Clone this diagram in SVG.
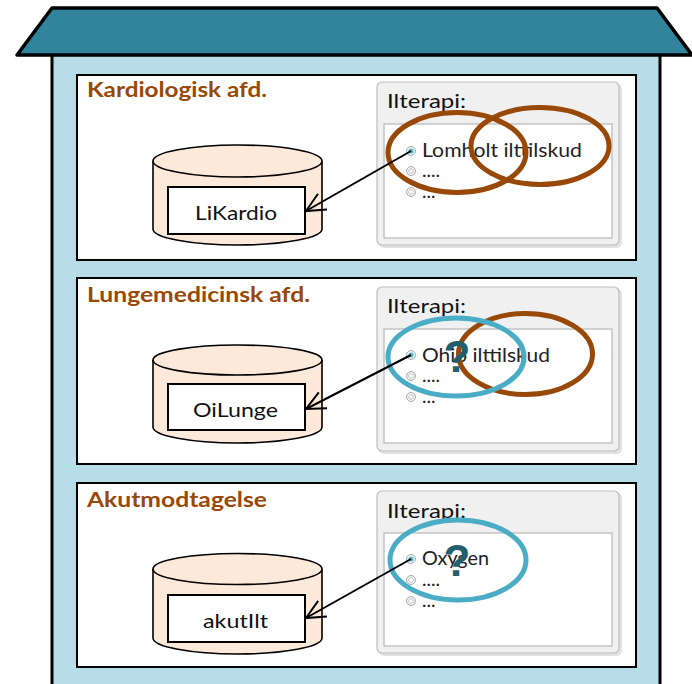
<svg xmlns="http://www.w3.org/2000/svg" width="692" height="684" viewBox="0 0 692 684">
<style>
.title{font-family:Lato,"Liberation Sans",sans-serif;font-weight:bold;font-size:21px;fill:#984807}
.lbl{font-family:Lato,"Liberation Sans",sans-serif;font-size:20px;fill:#111}
.opt{font-family:Lato,"Liberation Sans",sans-serif;font-size:19px;fill:#222}
.panel{fill:#fff;stroke:#000;stroke-width:2}
.cyl{fill:#fde9d9;stroke:#000;stroke-width:1.6}
.inner{fill:#fff;stroke:#000;stroke-width:2}
.box{fill:#f0f0f0;stroke:#bdbdbd;stroke-width:1.2}
.shadow{fill:#e2e2e2}
.list{fill:#fff;stroke:#c4c4c4;stroke-width:1.5}
.rad{fill:#f4f4f4;stroke:#a8a8a8;stroke-width:1}
.radi{fill:#fff;stroke:#b8b8b8;stroke-width:0.8}
.brown{fill:none;stroke:#984807;stroke-width:5}
.blue{fill:none;stroke:#4bacc6;stroke-width:5}
.q{font-family:"Liberation Sans",sans-serif;font-weight:bold;font-size:44px;fill:#215f70;text-anchor:middle}
.conn{fill:none;stroke:#000;stroke-width:2}
</style>
<defs>
<marker id="arr" viewBox="0 0 22 22" refX="21" refY="11" markerWidth="22" markerHeight="22" markerUnits="userSpaceOnUse" orient="auto">
<path d="M2,2 L21,11 L2,20" fill="none" stroke="#000" stroke-width="2"/>
</marker>
</defs>

<g id="building">
<rect x="52" y="52" width="608" height="640" fill="#b7dee8" stroke="#000" stroke-width="3"/>
<polygon points="52,8 657,8 692,55 17,55" fill="#31849b" stroke="#000" stroke-width="3.5" stroke-linejoin="round"/>
</g>

<g id="panel-kardio">
<rect class="panel" x="77" y="75" width="559" height="185"/>
<text class="title" x="87" y="97" textLength="180" lengthAdjust="spacingAndGlyphs">Kardiologisk afd.</text>
</g>
<g id="panel-lunge">
<rect class="panel" x="77" y="278" width="559" height="186"/>
<text class="title" x="87" y="302" textLength="223" lengthAdjust="spacingAndGlyphs">Lungemedicinsk afd.</text>
</g>
<g id="panel-akut">
<rect class="panel" x="77" y="483" width="559" height="184"/>
<text class="title" x="87" y="507" textLength="180" lengthAdjust="spacingAndGlyphs">Akutmodtagelse</text>
</g>

<g id="db-likardio">
<path class="cyl" d="M153,161 L153,229 A84.5,16 0 0 0 322,229 L322,161"/>
<ellipse class="cyl" cx="237.5" cy="161" rx="84.5" ry="16"/>
<rect class="inner" x="168" y="187" width="137" height="47"/>
<text class="lbl" x="195" y="220" textLength="82" lengthAdjust="spacingAndGlyphs">LiKardio</text>
</g>
<g id="db-oilunge">
<path class="cyl" d="M153,360 L153,427 A84.5,16 0 0 0 322,427 L322,360"/>
<ellipse class="cyl" cx="237.5" cy="360" rx="84.5" ry="15"/>
<rect class="inner" x="168" y="384" width="137" height="46"/>
<text class="lbl" x="193" y="417" textLength="85" lengthAdjust="spacingAndGlyphs">OiLunge</text>
</g>
<g id="db-akutilt">
<path class="cyl" d="M153,569 L153,638 A84.5,16 0 0 0 322,638 L322,569"/>
<ellipse class="cyl" cx="237.5" cy="569" rx="84.5" ry="15.5"/>
<rect class="inner" x="168" y="595" width="137" height="47"/>
<text class="lbl" x="203" y="628" textLength="65" lengthAdjust="spacingAndGlyphs">akutIlt</text>
</g>

<g id="form-kardio">
<rect class="shadow" x="379" y="84" width="243" height="164" rx="5"/>
<rect class="box" x="377" y="82" width="242" height="163" rx="5"/>
<text class="lbl" x="387" y="108" textLength="79" lengthAdjust="spacingAndGlyphs">Ilterapi:</text>
<rect class="list" x="384" y="124" width="228" height="114"/>
<circle class="rad" cx="411" cy="151" r="4.5"/><circle cx="411" cy="151" r="2.6" fill="#4fb8d4"/>
<circle class="rad" cx="411" cy="171" r="4.5"/><circle class="radi" cx="411" cy="171" r="2.3"/>
<circle class="rad" cx="411" cy="192" r="4.5"/><circle class="radi" cx="411" cy="192" r="2.3"/>
<text class="opt" x="422" y="157" textLength="160" lengthAdjust="spacingAndGlyphs">Lomholt ilttilskud</text>
<text class="opt" x="422" y="177">....</text>
<text class="opt" x="422" y="198">...</text>
<ellipse class="brown" cx="457" cy="152.5" rx="69" ry="40"/>
<ellipse class="brown" cx="540" cy="146" rx="69" ry="38.5"/>
</g>

<g id="form-lunge">
<rect class="shadow" x="379" y="289" width="243" height="165" rx="5"/>
<rect class="box" x="377" y="287" width="242" height="164" rx="5"/>
<text class="lbl" x="387" y="313" textLength="79" lengthAdjust="spacingAndGlyphs">Ilterapi:</text>
<rect class="list" x="384" y="329" width="228" height="114"/>
<circle class="rad" cx="411" cy="355" r="4.5"/><circle cx="411" cy="355" r="2.6" fill="#4fb8d4"/>
<circle class="rad" cx="411" cy="376" r="4.5"/><circle class="radi" cx="411" cy="376" r="2.3"/>
<circle class="rad" cx="411" cy="397" r="4.5"/><circle class="radi" cx="411" cy="397" r="2.3"/>
<text class="opt" x="422" y="362" textLength="128" lengthAdjust="spacingAndGlyphs">Ohio ilttilskud</text>
<text class="opt" x="422" y="382">....</text>
<text class="opt" x="422" y="403">...</text>
<ellipse class="brown" cx="525.5" cy="354" rx="67" ry="40.5"/>
<ellipse class="blue" cx="456" cy="357" rx="68" ry="39"/>
<text class="q" x="457" y="372">?</text>
</g>

<g id="form-akut">
<rect class="shadow" x="379" y="493" width="243" height="163" rx="5"/>
<rect class="box" x="377" y="491" width="242" height="162" rx="5"/>
<text class="lbl" x="387" y="518" textLength="79" lengthAdjust="spacingAndGlyphs">Ilterapi:</text>
<rect class="list" x="384" y="533" width="228" height="113"/>
<circle class="rad" cx="411" cy="559" r="4.5"/><circle cx="411" cy="559" r="2.6" fill="#4fb8d4"/>
<circle class="rad" cx="411" cy="580" r="4.5"/><circle class="radi" cx="411" cy="580" r="2.3"/>
<circle class="rad" cx="411" cy="601" r="4.5"/><circle class="radi" cx="411" cy="601" r="2.3"/>
<text class="opt" x="422" y="565" textLength="67" lengthAdjust="spacingAndGlyphs">Oxygen</text>
<text class="opt" x="422" y="586">....</text>
<text class="opt" x="422" y="607">...</text>
<ellipse class="blue" cx="458" cy="560" rx="68" ry="40"/>
<text class="q" x="457" y="576">?</text>
</g>

<g id="connectors">
<line class="conn" x1="411" y1="151" x2="306" y2="211" marker-end="url(#arr)"/>
<line class="conn" x1="411" y1="355" x2="306" y2="409" marker-end="url(#arr)"/>
<line class="conn" x1="411" y1="559" x2="306" y2="618" marker-end="url(#arr)"/>
</g>
</svg>
